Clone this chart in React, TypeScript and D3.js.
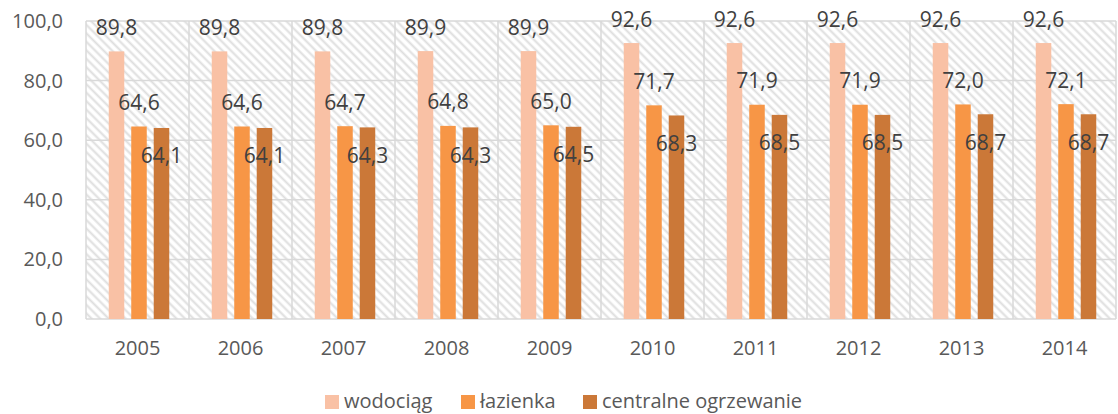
import * as d3 from "d3";

const years = ["2005", "2006", "2007", "2008", "2009", "2010", "2011", "2012", "2013", "2014"];
const seriesNames = ["wodociąg", "łazienka", "centralne ogrzewanie"];
const wodociag = [89.8, 89.8, 89.8, 89.9, 89.9, 92.6, 92.6, 92.6, 92.6, 92.6];
const lazienka = [64.6, 64.6, 64.7, 64.8, 65.0, 71.7, 71.9, 71.9, 72.0, 72.1];
const ogrzewanie = [64.1, 64.1, 64.3, 64.3, 64.5, 68.3, 68.5, 68.5, 68.7, 68.7];
const yTicks = [0, 20, 40, 60, 80, 100];

const colors = ["#f9c1a5", "#f79646", "#cb7838"];
const W = 1118;
const H = 414;
const FONT = "'Open Sans', sans-serif";
const fmt = (v: number) => v.toFixed(1).replace(".", ",");

export default function App() {
  const values = [wodociag, lazienka, ogrzewanie];
  const x0 = d3.scaleBand<string>().domain(years).range([86, 1116]).padding(0);
  const x1 = d3
    .scaleBand<string>()
    .domain(seriesNames)
    .range([-28.75, 31.75])
    .paddingInner(0.31)
    .paddingOuter(0);
  const y = d3.scaleLinear().domain([0, 100]).range([319, 21]);
  const grid = "#d9d9d9";

  return (
    <svg
      width={W}
      height={H}
      style={{ position: "absolute", left: 0, top: 0, background: "#fff" }}
      fontFamily={FONT}
    >
      <defs>
        <pattern
          id="hatch"
          patternUnits="userSpaceOnUse"
          width={6}
          height={6}
          patternTransform="rotate(-45)"
        >
          <rect width={6} height={6} fill="#fff" />
          <line x1={1.5} y1={0} x2={1.5} y2={6} stroke="#dedede" strokeWidth={2} />
        </pattern>
      </defs>

      {/* plot background */}
      <rect x={86} y={y(100)} width={1116 - 86} height={y(0) - y(100)} fill="url(#hatch)" />

      {/* grid */}
      {yTicks.map((t) => (
        <line key={t} x1={86} x2={1116} y1={y(t)} y2={y(t)} stroke={grid} strokeWidth={1.5} />
      ))}
      {years.map((yr) => (
        <line
          key={yr}
          x1={x0(yr)!}
          x2={x0(yr)!}
          y1={y(100)}
          y2={y(0)}
          stroke={grid}
          strokeWidth={1.5}
        />
      ))}
      <line x1={1116} x2={1116} y1={y(100)} y2={y(0)} stroke={grid} strokeWidth={1.5} />

      {/* y tick labels */}
      {yTicks.map((t) => (
        <text key={t} x={63} y={y(t) + 7} textAnchor="end" fontSize={20} fill="#595959">
          {fmt(t)}
        </text>
      ))}

      {/* bars */}
      {years.map((yr, i) => {
        const cx = x0(yr)! + x0.bandwidth() / 2;
        return (
          <g key={yr}>
            {seriesNames.map((s, k) => {
              const v = values[k][i];
              return (
                <rect
                  key={s}
                  x={cx + x1(s)!}
                  y={y(v)}
                  width={x1.bandwidth()}
                  height={y(0) - y(v)}
                  fill={colors[k]}
                />
              );
            })}
            {seriesNames.map((s, k) => {
              const v = values[k][i];
              const ly = k === 2 ? y(v) + 28 : y(v) - 24;
              return (
                <text
                  key={s}
                  x={cx + x1(s)! + x1.bandwidth() / 2}
                  y={ly + 7.5}
                  textAnchor="middle"
                  fontSize={21}
                  fill="#404040"
                >
                  {fmt(v)}
                </text>
              );
            })}
            <text x={cx} y={355} textAnchor="middle" fontSize={20} fill="#595959">
              {yr}
            </text>
          </g>
        );
      })}

      {/* legend */}
      {seriesNames.map((s, k) => {
        const lx = [325, 461, 583][k];
        return (
          <g key={s}>
            <rect x={lx} y={395} width={14} height={14} fill={colors[k]} />
            <text x={lx + 19} y={408} fontSize={20} fill="#595959">
              {s}
            </text>
          </g>
        );
      })}
    </svg>
  );
}
